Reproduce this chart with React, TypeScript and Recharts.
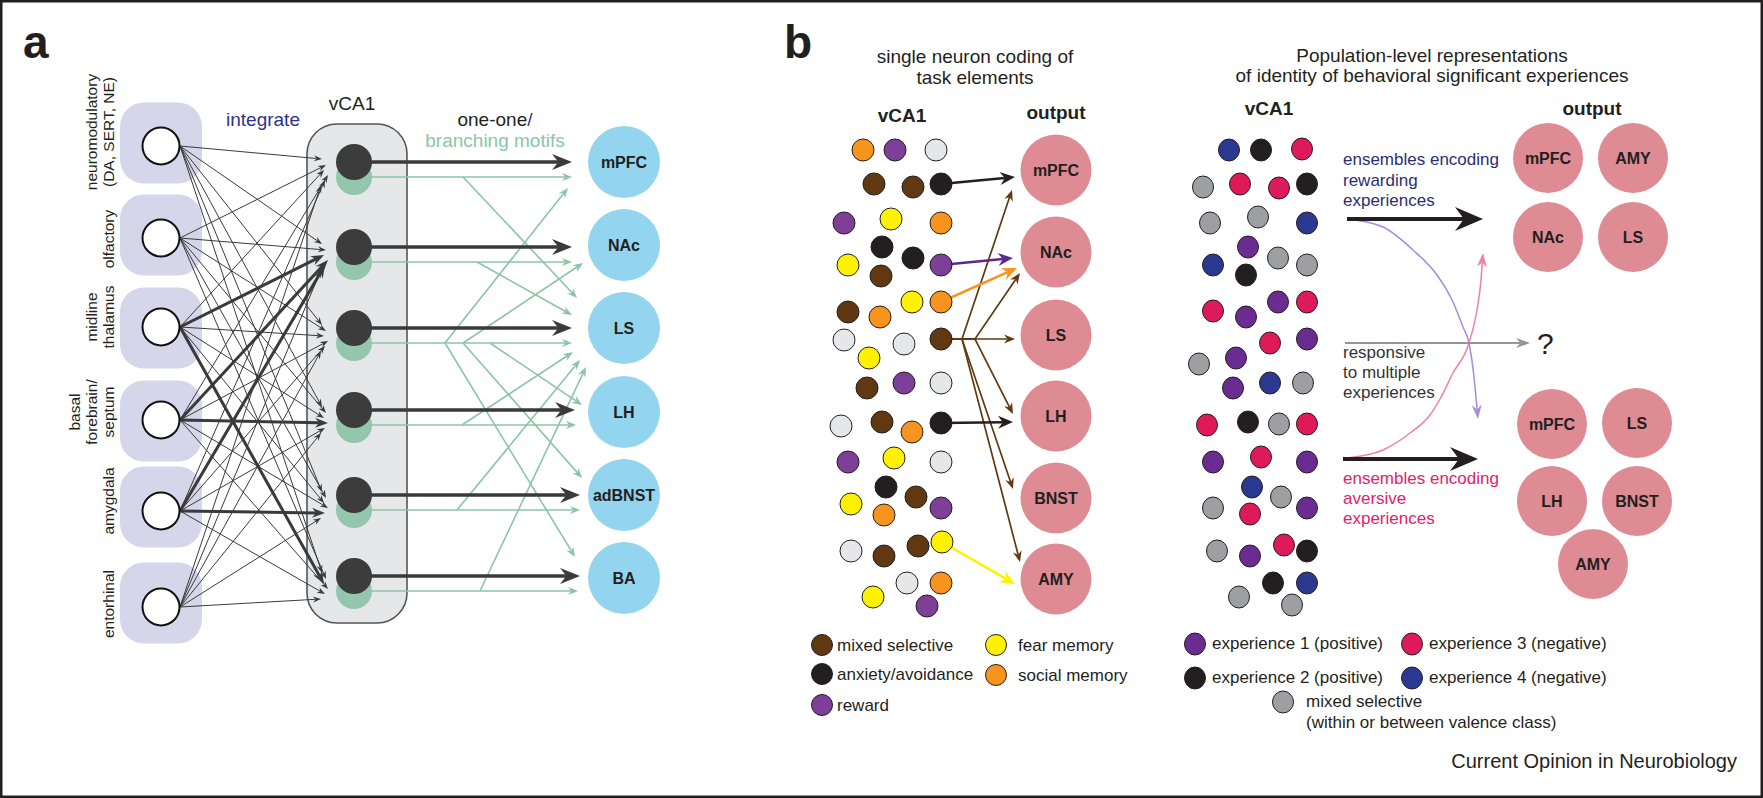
import React from 'react';
import { ScatterChart, Scatter, XAxis, YAxis, ReferenceArea } from 'recharts';

const W = 1763;
const H = 798;
const FONT = '"Liberation Sans", Arial, Helvetica, sans-serif';

type Pt = [number, number];

/* ---------------- panel a : data ---------------- */
const inputLabelLines: string[][] = [
  ['neuromodulatory', '(DA, SERT, NE)'],
  ['olfactory'],
  ['midline', 'thalamus'],
  ['basal', 'forebrain/', 'septum'],
  ['amygdala'],
  ['entorhinal'],
];
const inputX = 161;
const inputY = [146, 238, 327, 420, 511, 607];
const inputBoxY = [143, 235, 328, 421, 507, 603];
const inputLabelY = [132, 239, 317, 412, 501, 604];
const inputTipX = [322, 326, 324, 328, 325, 321];
const inputTipDy = [-3, 3, 8, 13, 18, 23];
// [input index, vCA1 neuron index] drawn as strong projections
const thickInputs: Pt[] = [[2, 1], [2, 5], [3, 1], [3, 3], [4, 4], [4, 1]];

const vcaX = 354;
const vcaY = [162, 247, 328, 410, 495, 576];
const vcaGreenY = [177, 262, 343, 425, 510, 591];
const vcaBox = { x1: 307, x2: 407, y1: 124, y2: 623 };

const targetsA = ['mPFC', 'NAc', 'LS', 'LH', 'adBNST', 'BA'];
const targetAX = 624;
const targetAY = [162, 245, 328, 412, 495, 578];
const oneToOneTipX = [572, 572, 572, 575, 580, 580];
const branchTipX = [572, 572, 572, 576, 580, 578];
// branching motifs: [x1, y1, x2, y2]
const greenBranches: number[][] = [
  [463, 177, 577, 298],
  [477, 262, 572, 315],
  [445, 343, 568, 188],
  [463, 343, 583, 263],
  [490, 343, 582, 405],
  [463, 343, 582, 478],
  [445, 343, 575, 557],
  [462, 425, 573, 352],
  [457, 510, 580, 360],
  [480, 591, 586, 367],
];

/* ---------------- panel b (left) : data ---------------- */
const neuronsL: [number, number, string][] = [
  [863, 150, 'S'], [895, 150, 'R'], [936, 150, 'N'],
  [874, 184, 'M'], [913, 187, 'M'], [941, 184, 'A'],
  [844, 223, 'R'], [891, 219, 'F'], [941, 223, 'S'],
  [882, 247, 'A'], [913, 258, 'A'], [848, 265, 'F'], [941, 265, 'R'], [881, 276, 'M'],
  [912, 302, 'F'], [941, 302, 'S'], [848, 312, 'M'], [880, 317, 'S'],
  [844, 340, 'N'], [904, 344, 'N'], [941, 339, 'M'],
  [869, 358, 'F'],
  [867, 388, 'M'], [904, 383, 'R'], [941, 383, 'N'],
  [841, 426, 'N'], [882, 422, 'M'], [912, 432, 'S'], [941, 423, 'A'],
  [848, 462, 'R'], [894, 458, 'F'], [941, 462, 'N'],
  [886, 487, 'A'], [851, 504, 'F'], [916, 497, 'M'], [884, 515, 'S'], [941, 508, 'R'],
  [851, 551, 'N'], [884, 556, 'M'], [918, 546, 'M'], [942, 542, 'F'],
  [907, 583, 'N'], [941, 583, 'S'], [873, 597, 'F'], [927, 606, 'R'],
];
const catColorL: Record<string, string> = {
  M: '#603913', A: '#231f20', R: '#7e3f98', F: '#fff200', S: '#f7941d', N: '#e6e7e8',
};
const targetsB = ['mPFC', 'NAc', 'LS', 'LH', 'BNST', 'AMY'];
const targetBX = 1056;
const targetBY = [170, 252, 335, 416, 498, 579];
const arrowsBL: { c: string; pts: Pt[] }[] = [
  { c: '#231f20', pts: [[941, 184], [1015, 177]] },
  { c: '#5b2a8c', pts: [[941, 265], [1013, 258]] },
  { c: '#f7941d', pts: [[941, 302], [1017, 268]] },
  { c: '#231f20', pts: [[941, 423], [1013, 422]] },
  { c: '#fff200', pts: [[942, 542], [1015, 584]] },
];
const mixedArrows: Pt[][] = [
  [[941, 339], [962, 339], [1012, 190]],
  [[941, 339], [975, 339], [1020, 273]],
  [[941, 339], [1015, 339]],
  [[941, 339], [975, 339], [1013, 414]],
  [[941, 339], [962, 339], [1013, 489]],
  [[941, 339], [962, 339], [1020, 562]],
];
const legendLCats = ['M', 'A', 'R', 'F', 'S'];
const legendLLabels = ['mixed selective', 'anxiety/avoidance', 'reward', 'fear memory', 'social memory'];
const legendLX = [822, 822, 822, 996, 996];
const legendLY = [645, 674, 705, 645, 675];

/* ---------------- panel b (right) : data ---------------- */
const neuronsR: [number, number, string][] = [
  [1229, 150, 'B'], [1261, 150, 'K'], [1302, 149, 'C'],
  [1203, 187, 'G'], [1240, 184, 'C'], [1279, 188, 'C'], [1307, 184, 'K'],
  [1210, 223, 'G'], [1258, 217, 'G'], [1307, 223, 'B'],
  [1248, 247, 'P'], [1278, 258, 'G'], [1213, 265, 'B'], [1246, 275, 'K'], [1307, 265, 'G'],
  [1213, 311, 'C'], [1246, 317, 'P'], [1278, 302, 'P'], [1307, 302, 'C'],
  [1270, 343, 'C'], [1307, 339, 'P'], [1199, 364, 'G'], [1236, 358, 'P'],
  [1233, 388, 'P'], [1270, 383, 'B'], [1303, 383, 'G'],
  [1207, 425, 'C'], [1248, 422, 'K'], [1279, 424, 'G'], [1307, 424, 'C'],
  [1213, 462, 'P'], [1261, 457, 'C'], [1307, 462, 'P'],
  [1252, 487, 'B'], [1281, 497, 'G'], [1213, 508, 'G'], [1250, 514, 'C'], [1307, 508, 'P'],
  [1217, 551, 'G'], [1250, 556, 'P'], [1284, 545, 'C'], [1307, 551, 'K'],
  [1273, 583, 'K'], [1307, 583, 'B'], [1239, 597, 'G'], [1292, 605, 'G'],
];
const catColorR: Record<string, string> = {
  P: '#6a2c91', K: '#231f20', C: '#df1a5b', B: '#2b3990', G: '#9d9fa2',
};
const outputsTop: [string, number, number][] = [
  ['mPFC', 1548, 158], ['AMY', 1633, 158], ['NAc', 1548, 237], ['LS', 1633, 237],
];
const outputsBottom: [string, number, number][] = [
  ['mPFC', 1552, 424], ['LS', 1637, 423], ['LH', 1552, 501], ['BNST', 1637, 501], ['AMY', 1593, 564],
];
const rewardArrow: Pt[] = [[1347, 219], [1483, 219]];
const multiArrow: Pt[] = [[1345, 343], [1530, 343]];
const aversiveArrow: Pt[] = [[1343, 459], [1478, 459]];
const purpleCurve: Pt[] = [
  [1347, 219], [1383, 227], [1413, 250], [1437, 275], [1453, 302], [1463, 327], [1469, 343], [1474, 377], [1478, 419],
];
const pinkCurve: Pt[] = [
  [1347, 458], [1383, 450], [1410, 433], [1430, 415], [1440, 399], [1453, 373], [1469, 343], [1477, 310], [1481, 280], [1483, 253],
];
const legendRCats = ['P', 'C', 'K', 'B', 'G'];
const legendRLabels = [
  'experience 1 (positive)', 'experience 3 (negative)', 'experience 2 (positive)', 'experience 4 (negative)', 'mixed selective',
];
const legendRX = [1195, 1412, 1195, 1412, 1283];
const legendRY = [644, 644, 678, 678, 702];

/* ---------------- helpers ---------------- */
function arrowSeries(key: string, pts: Pt[], color: string, width: number, L: number, Wd: number, curve = false) {
  const n = pts.length;
  const [tx, ty] = pts[n - 1];
  const [px, py] = pts[n - 2];
  const ang = Math.atan2(ty - py, tx - px);
  const inset = L * 0.68;
  const cos = Math.cos(ang);
  const sin = Math.sin(ang);
  const data: any[] = pts.slice(0, n - 1).map(([x, y]) => ({ x, y, head: false }));
  data.push({ x: tx - cos * inset, y: ty - sin * inset, head: true });
  const deg = (ang * 180) / Math.PI;
  return (
    <Scatter
      key={key}
      data={data}
      fill={color}
      isAnimationActive={false}
      line={{ stroke: color, strokeWidth: width, fill: 'none' }}
      lineJointType={curve ? 'monotoneX' : 'linear'}
      shape={(p: any) =>
        p.payload && p.payload.head ? (
          <path
            d={`M0,0L${-L},${-Wd}L${-inset},0L${-L},${Wd}Z`}
            fill={color}
            transform={`translate(${p.cx + cos * inset},${p.cy + sin * inset}) rotate(${deg})`}
          />
        ) : (
          <g />
        )
      }
    />
  );
}

type TextItem = { x: number; y: number; t: string };
function textSeries(
  key: string,
  items: TextItem[],
  o: { size: number; color?: string; weight?: string | number; anchor?: 'start' | 'middle' | 'end'; rotate?: boolean }
) {
  return (
    <Scatter
      key={key}
      data={items}
      fill="none"
      isAnimationActive={false}
      shape={(p: any) => (
        <text
          x={p.cx}
          y={p.cy}
          fontSize={o.size}
          fontFamily={FONT}
          fontWeight={o.weight || 'normal'}
          fill={o.color || '#231f20'}
          textAnchor={o.anchor || 'middle'}
          transform={o.rotate ? `rotate(-90, ${p.cx}, ${p.cy})` : undefined}
        >
          {p.payload.t}
        </text>
      )}
    />
  );
}

type CircleItem = { x: number; y: number; c: string };
function circleSeries(key: string, items: CircleItem[], rx: number, colorOf: (c: string) => string, stroke = 'none', sw = 0, ry?: number) {
  return (
    <Scatter
      key={key}
      data={items}
      fill="none"
      isAnimationActive={false}
      shape={(p: any) => (
        <ellipse cx={p.cx} cy={p.cy} rx={rx} ry={ry || rx} fill={colorOf(p.payload.c)} stroke={stroke} strokeWidth={sw} />
      )}
    />
  );
}

/* ---------------- build series ---------------- */
const inputArrowsThin: React.ReactNode[] = [];
const inputArrowsThick: React.ReactNode[] = [];
inputY.forEach((iy, i) => {
  vcaY.forEach((ny, j) => {
    const thick = thickInputs.some(([a, b]) => a === i && b === j);
    const pts: Pt[] = [[inputX + 19, iy], [inputTipX[i], ny + inputTipDy[i]]];
    if (thick) inputArrowsThick.push(arrowSeries(`in-${i}-${j}`, pts, '#3a3a3a', 3, 13, 5));
    else inputArrowsThin.push(arrowSeries(`in-${i}-${j}`, pts, '#3a3a3a', 1, 8, 3));
  });
});

const labelItems: TextItem[] = [];
inputLabelLines.forEach((lines, i) => {
  lines.forEach((t, k) => {
    labelItems.push({ x: 114 - 17 * (lines.length - 1 - k), y: inputLabelY[i], t });
  });
});

const App = () => (
  <div style={{ position: 'fixed', left: 0, top: 0, width: W, height: H, background: '#ffffff' }}>
    <ScatterChart width={W} height={H} margin={{ top: 0, right: 0, bottom: 0, left: 0 }}>
      <XAxis type="number" dataKey="x" domain={[0, W]} hide allowDataOverflow />
      <YAxis type="number" dataKey="y" domain={[0, H]} reversed hide allowDataOverflow />

      <ReferenceArea
        x1={0}
        x2={W}
        y1={0}
        y2={H}
        ifOverflow="visible"
        shape={(p: any) => (
          <rect x={p.x} y={p.y} width={p.width} height={p.height} fill="none" stroke="#231f20" strokeWidth={5} />
        )}
      />
      <ReferenceArea
        x1={vcaBox.x1}
        x2={vcaBox.x2}
        y1={vcaBox.y1}
        y2={vcaBox.y2}
        ifOverflow="visible"
        shape={(p: any) => (
          <rect x={p.x} y={p.y} width={p.width} height={p.height} rx={30} ry={30} fill="#e6e7e8" stroke="#555555" strokeWidth={1.6} />
        )}
      />

      {/* ---------- panel a ---------- */}
      <Scatter
        data={inputBoxY.map((y) => ({ x: inputX, y }))}
        fill="none"
        isAnimationActive={false}
        shape={(p: any) => (
          <rect x={p.cx - 41} y={p.cy - 40.5} width={82} height={81} rx={24} ry={24} fill="#d5d6ea" />
        )}
      />
      {inputArrowsThin}
      {inputArrowsThick}

      {vcaGreenY.map((y, j) =>
        arrowSeries(`gs-${j}`, [[vcaX, y], [branchTipX[j], y]], '#8cc4a7', 1.6, 10, 4)
      )}
      {greenBranches.map((b, k) =>
        arrowSeries(`gb-${k}`, [[b[0], b[1]], [b[2], b[3]]], '#8cc4a7', 1.6, 10, 4)
      )}
      {vcaY.map((y, j) =>
        arrowSeries(`dk-${j}`, [[vcaX, y], [oneToOneTipX[j], y]], '#3a3a3a', 3.5, 20, 8)
      )}
      {circleSeries('vgreen', vcaGreenY.map((y) => ({ x: vcaX, y, c: 'g' })), 18, () => '#93c6ac')}
      {circleSeries('vdark', vcaY.map((y) => ({ x: vcaX, y, c: 'd' })), 18, () => '#3c3c3c')}
      {circleSeries('inputs', inputY.map((y) => ({ x: inputX, y, c: 'w' })), 18.5, () => '#ffffff', '#111111', 2)}
      {circleSeries('targetsA', targetAY.map((y) => ({ x: targetAX, y, c: 'b' })), 36, () => '#93d4ef')}
      {textSeries('targetsAlbl', targetsA.map((t, j) => ({ x: targetAX, y: targetAY[j] + 6, t })), { size: 16, weight: 'bold' })}

      {textSeries('inlbl', labelItems, { size: 15.5, rotate: true })}
      {textSeries('alabel', [{ x: 23, y: 58, t: 'a' }], { size: 46, weight: 'bold', anchor: 'start' })}
      {textSeries('vca1a', [{ x: 352, y: 110, t: 'vCA1' }], { size: 19 })}
      {textSeries('integrate', [{ x: 263, y: 126, t: 'integrate' }], { size: 19, color: '#2e3192' })}
      <Scatter
        data={[{ x: 495, y: 126 }]}
        fill="none"
        isAnimationActive={false}
        shape={(p: any) => (
          <text x={p.cx} y={p.cy} fontSize={19} fontFamily={FONT} textAnchor="middle" fill="#231f20">
            one-one<tspan fill="#2e3192">/</tspan>
          </text>
        )}
      />
      {textSeries('branching', [{ x: 495, y: 147, t: 'branching motifs' }], { size: 19, color: '#8cc4a7' })}

      {/* ---------- panel b left ---------- */}
      {mixedArrows.map((pts, k) => arrowSeries(`mx-${k}`, pts, '#603913', 1.7, 11, 4.5))}
      {arrowsBL.map((a, k) => arrowSeries(`bl-${k}`, a.pts, a.c, 2.5, 15, 6.5))}
      {circleSeries('nL', neuronsL.map(([x, y, c]) => ({ x, y, c })), 11, (c) => catColorL[c], '#231f20', 1)}
      {circleSeries('tB', targetBY.map((y) => ({ x: targetBX, y, c: 'p' })), 35.5, () => '#de8b94')}
      {textSeries('tBl', targetsB.map((t, j) => ({ x: targetBX, y: targetBY[j] + 6, t })), { size: 16, weight: 'bold' })}
      {textSeries('blabel', [{ x: 784, y: 58, t: 'b' }], { size: 46, weight: 'bold', anchor: 'start' })}
      {textSeries('titleL', [
        { x: 975, y: 63, t: 'single neuron coding of' },
        { x: 975, y: 84, t: 'task elements' },
      ], { size: 19 })}
      {textSeries('hdrL', [
        { x: 902, y: 122, t: 'vCA1' },
        { x: 1056, y: 119, t: 'output' },
      ], { size: 19, weight: 'bold' })}
      {circleSeries('legL', legendLCats.map((c, k) => ({ x: legendLX[k], y: legendLY[k], c })), 10.5, (c) => catColorL[c], '#231f20', 1)}
      {textSeries('legLt', legendLLabels.map((t, k) => ({ x: legendLX[k] + (k < 3 ? 15 : 22), y: legendLY[k] + 6, t })), { size: 17, anchor: 'start' })}

      {/* ---------- panel b right ---------- */}
      {arrowSeries('purpleCurve', purpleCurve, '#a98bd9', 1.5, 14, 5, true)}
      {arrowSeries('pinkCurve', pinkCurve, '#f07fa8', 1.5, 14, 5, true)}
      {arrowSeries('multi', multiArrow, '#939598', 1.8, 14, 5)}
      {arrowSeries('reward', rewardArrow, '#231f20', 4, 28, 12)}
      {arrowSeries('aversive', aversiveArrow, '#231f20', 4, 28, 12)}
      {circleSeries('nR', neuronsR.map(([x, y, c]) => ({ x, y, c })), 10.5, (c) => catColorR[c], '#231f20', 1, 11)}
      {circleSeries('oTop', outputsTop.map(([, x, y]) => ({ x, y, c: 'p' })), 35, () => '#de8b94')}
      {circleSeries('oBot', outputsBottom.map(([, x, y]) => ({ x, y, c: 'p' })), 35, () => '#de8b94')}
      {textSeries('oTopL', outputsTop.map(([t, x, y]) => ({ x, y: y + 6, t })), { size: 16, weight: 'bold' })}
      {textSeries('oBotL', outputsBottom.map(([t, x, y]) => ({ x, y: y + 6, t })), { size: 16, weight: 'bold' })}
      {textSeries('titleR', [
        { x: 1432, y: 62, t: 'Population-level representations' },
        { x: 1432, y: 82, t: 'of identity of behavioral significant experiences' },
      ], { size: 19 })}
      {textSeries('hdrR', [
        { x: 1269, y: 115, t: 'vCA1' },
        { x: 1592, y: 115, t: 'output' },
      ], { size: 19, weight: 'bold' })}
      {textSeries('rewTxt', [
        { x: 1343, y: 165, t: 'ensembles encoding' },
        { x: 1343, y: 186, t: 'rewarding' },
        { x: 1343, y: 206, t: 'experiences' },
      ], { size: 17, color: '#2b2e72', anchor: 'start' })}
      {textSeries('multiTxt', [
        { x: 1343, y: 358, t: 'responsive' },
        { x: 1343, y: 378, t: 'to multiple' },
        { x: 1343, y: 398, t: 'experiences' },
      ], { size: 17, color: '#333333', anchor: 'start' })}
      {textSeries('avTxt', [
        { x: 1343, y: 484, t: 'ensembles encoding' },
        { x: 1343, y: 504, t: 'aversive' },
        { x: 1343, y: 524, t: 'experiences' },
      ], { size: 17, color: '#e3226a', anchor: 'start' })}
      {textSeries('q', [{ x: 1537, y: 354, t: '?' }], { size: 30, anchor: 'start' })}
      {circleSeries('legR', legendRCats.map((c, k) => ({ x: legendRX[k], y: legendRY[k], c })), 10.5, (c) => catColorR[c], '#231f20', 1, 11)}
      {textSeries('legRt', [
        ...legendRLabels.map((t, k) => ({ x: legendRX[k] + (k < 4 ? 17 : 23), y: legendRY[k] + 5, t })),
        { x: 1306, y: 728, t: '(within or between valence class)' },
      ], { size: 17, anchor: 'start' })}
      {textSeries('footer', [{ x: 1737, y: 768, t: 'Current Opinion in Neurobiology' }], { size: 20, anchor: 'end' })}
    </ScatterChart>
  </div>
);

export default App;
